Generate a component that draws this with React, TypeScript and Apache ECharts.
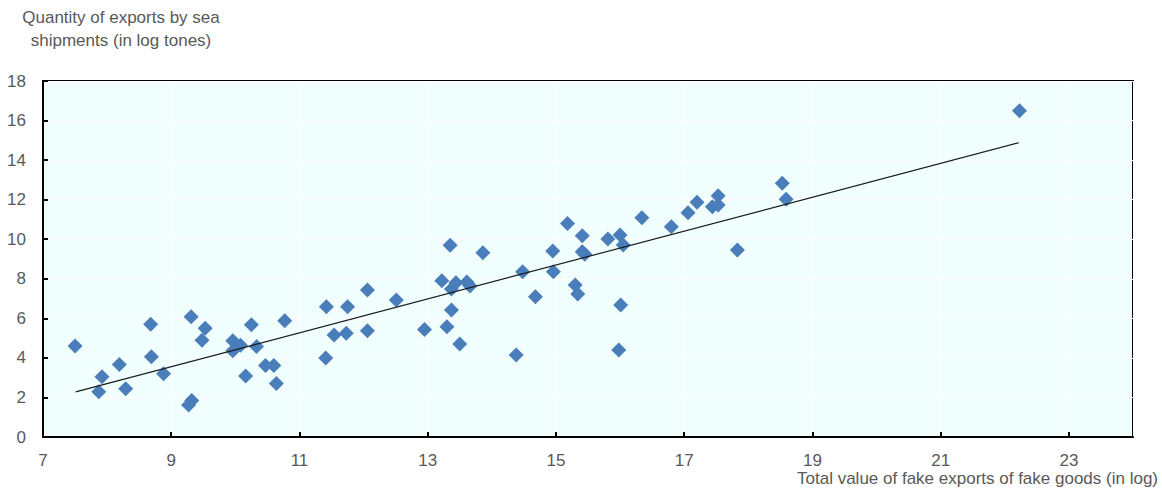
import React, { useEffect, useRef } from "react";
import * as echarts from "echarts";

const xValues = [
  7.50, 7.92, 7.87, 8.19, 8.29, 8.68, 8.69, 8.88, 9.31, 9.27, 9.32, 9.53, 9.48,
  9.96, 9.96, 10.08, 10.16, 10.25, 10.33, 10.47, 10.60, 10.64, 10.77,
  11.42, 11.41, 11.54, 11.75, 11.73, 12.06, 12.06, 12.51, 12.95, 13.22, 13.35,
  13.37, 13.44, 13.37, 13.30, 13.50, 13.61, 13.66, 13.86, 14.38, 14.48, 14.68,
  14.95, 14.96, 15.18, 15.41, 15.41, 15.45, 15.30, 15.34, 15.81, 16.00, 16.05,
  16.01, 15.98, 16.34, 16.80, 17.06, 17.20, 17.44, 17.53, 17.53, 17.83, 18.53,
  18.59, 22.23,
];
const yValues = [
  4.60, 3.05, 2.29, 3.66, 2.44, 5.70, 4.06, 3.20, 6.08, 1.62, 1.84, 5.50, 4.89,
  4.87, 4.36, 4.64, 3.08, 5.68, 4.57, 3.61, 3.61, 2.70, 5.88,
  6.59, 4.00, 5.16, 6.59, 5.24, 7.43, 5.37, 6.93, 5.44, 7.90, 9.69,
  7.48, 7.80, 6.42, 5.58, 4.70, 7.84, 7.63, 9.32, 4.15, 8.36, 7.09,
  9.40, 8.36, 10.80, 10.18, 9.37, 9.24, 7.68, 7.23, 10.01, 10.21, 9.71,
  6.67, 4.40, 11.09, 10.63, 11.34, 11.87, 11.64, 12.20, 11.73, 9.45, 12.83,
  12.02, 16.50,
];
const trendX = [7.51, 22.22];
const trendY = [2.28, 14.88];

const yTitle = "Quantity of exports by sea\nshipments (in log tones)";
const xTitle = "Total value of fake exports of fake goods (in log)";

export default function App() {
  const ref = useRef<HTMLDivElement>(null);
  useEffect(() => {
    document.body.style.margin = "0";
    const chart = echarts.init(ref.current!, null, { renderer: "svg" });
    const labelColor = "#595959";
    const font = "Liberation Sans, Arial, sans-serif";
    chart.setOption({
      animation: false,
      grid: {
        left: 43,
        right: 29,
        top: 81,
        bottom: 55,
        show: true,
        backgroundColor: "#f0fefe",
        borderColor: "#000",
        borderWidth: 2,
      },
      xAxis: {
        type: "value",
        min: 7,
        max: 24,
        interval: 2,
        axisLine: { show: true, onZero: false, lineStyle: { color: "#000", width: 2 } },
        axisTick: { show: true, inside: true, length: 5, lineStyle: { color: "#000", width: 2 } },
        axisLabel: {
          color: labelColor,
          fontSize: 17,
          fontFamily: font,
          margin: 15,
          showMaxLabel: false,
        },
        splitLine: { show: true, lineStyle: { color: "#ffffff", width: 1 } },
      },
      yAxis: {
        type: "value",
        min: 0,
        max: 18,
        interval: 2,
        axisLine: { show: true, onZero: false, lineStyle: { color: "#000", width: 2 } },
        axisTick: { show: true, inside: true, length: 5, lineStyle: { color: "#000", width: 2 } },
        axisLabel: { color: labelColor, fontSize: 17, fontFamily: font, margin: 17 },
        splitLine: { show: true, lineStyle: { color: "#ffffff", width: 1 } },
      },
      graphic: [
        {
          type: "text",
          x: 121,
          y: 6,
          style: {
            text: yTitle,
            fill: labelColor,
            font: `17px ${font}`,
            lineHeight: 23,
            textAlign: "center",
            textVerticalAlign: "top",
          },
        },
        {
          type: "text",
          x: 1158,
          y: 470,
          style: {
            text: xTitle,
            fill: labelColor,
            font: `17px ${font}`,
            textAlign: "right",
            textVerticalAlign: "top",
          },
        },
      ],
      series: [
        {
          type: "scatter",
          symbol: "diamond",
          symbolSize: 15,
          itemStyle: { color: "#4a7ebb", opacity: 1 },
          data: xValues.map((x, i) => [x, yValues[i]]),
          z: 2,
        },
        {
          type: "line",
          showSymbol: false,
          symbol: "none",
          lineStyle: { color: "#1a1a1a", width: 1.2 },
          data: trendX.map((x, i) => [x, trendY[i]]),
          z: 3,
        },
      ],
    });
    return () => chart.dispose();
  }, []);
  return <div ref={ref} style={{ width: 1162, height: 492 }} />;
}
